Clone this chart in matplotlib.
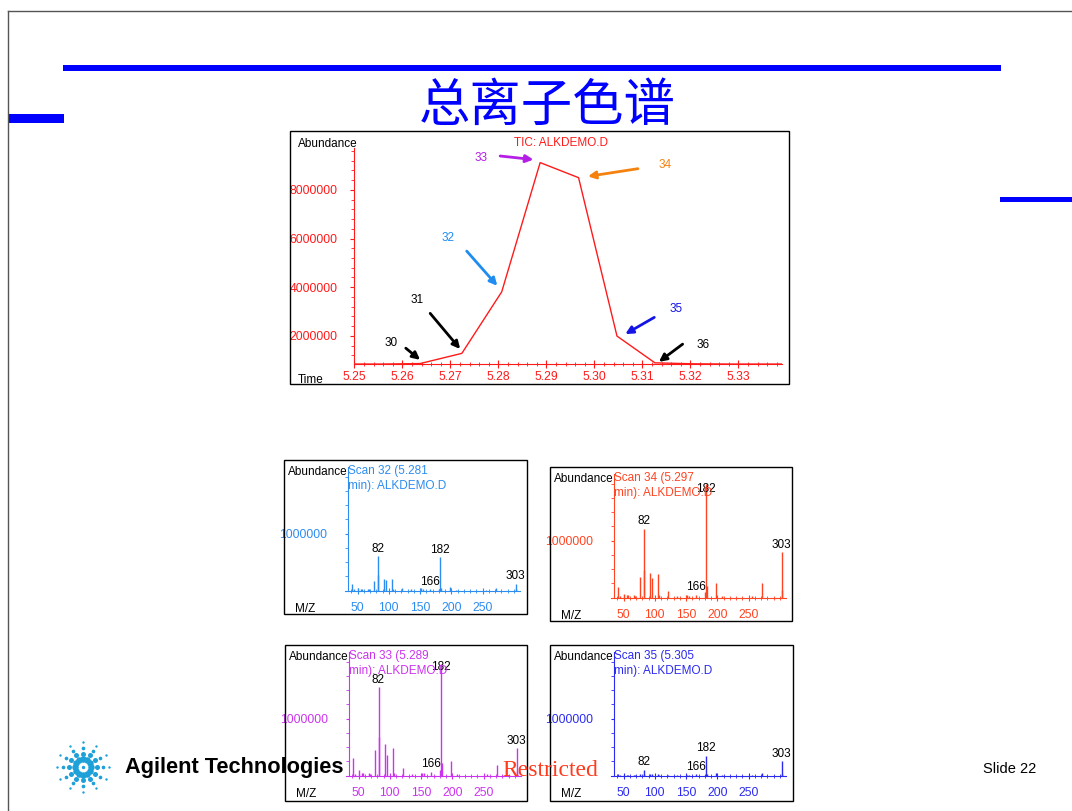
import numpy as np
import matplotlib
matplotlib.use("Agg")
import matplotlib.pyplot as plt
from matplotlib.patches import Rectangle
from matplotlib.lines import Line2D
from matplotlib.transforms import offset_copy
from matplotlib.ticker import MultipleLocator, FixedLocator

plt.rcParams['font.family'] = ['Liberation Sans', 'Noto Sans CJK SC', 'DejaVu Sans']

# ---- TIC data (scan number, retention time in min, abundance) ----
tic_scans = [28, 29, 30, 31, 32, 33, 34, 35, 36, 37, 38, 39, 40]
tic_time = [5.2477, 5.2557, 5.2637, 5.2724, 5.2807, 5.2887, 5.2967,
            5.3047, 5.3126, 5.3206, 5.3286, 5.3366, 5.3446]
tic_abund = [0.84e6, 0.84e6, 0.86e6, 1.28e6, 3.81e6, 9.12e6, 8.50e6,
             1.99e6, 0.89e6, 0.85e6, 0.84e6, 0.84e6, 0.84e6]
tic_xticks = [5.25, 5.26, 5.27, 5.28, 5.29, 5.30, 5.31, 5.32, 5.33]
tic_yticks = [2000000, 4000000, 6000000, 8000000]

# ---- mass spectra (m/z and abundance in millions) ----
mz = [41, 44, 51, 55, 57, 67, 69, 77, 82, 83, 93, 96, 105, 107, 121, 135,
      152, 155, 166, 180, 182, 184, 198, 207, 255, 272, 303, 304]
scan32 = [0.11, 0.02, 0.04, 0.03, 0.03, 0.03, 0.02, 0.17, 0.60, 0.28, 0.21, 0.19, 0.21, 0.03, 0.04, 0.02,
          0.04, 0.02, 0.02, 0.03, 0.58, 0.05, 0.065, 0.01, 0.01, 0.04, 0.12, 0.02]
scan34 = [0.18, 0.03, 0.07, 0.04, 0.04, 0.04, 0.03, 0.365, 1.21, 0.49, 0.435, 0.35, 0.42, 0.05, 0.12, 0.03,
          0.04, 0.03, 0.05, 0.10, 2.00, 0.20, 0.26, 0.02, 0.02, 0.26, 0.80, 0.13]
scan33 = [0.30, 0.03, 0.09, 0.05, 0.04, 0.05, 0.03, 0.45, 1.55, 0.67, 0.55, 0.36, 0.49, 0.05, 0.13, 0.03,
          0.05, 0.04, 0.07, 0.09, 1.96, 0.22, 0.25, 0.02, 0.02, 0.19, 0.48, 0.08]
scan35 = [0.03, 0.01, 0.01, 0.01, 0.01, 0.01, 0.01, 0.02, 0.10, 0.03, 0.02, 0.02, 0.03, 0.01, 0.01, 0.01,
          0.01, 0.01, 0.02, 0.01, 0.35, 0.02, 0.04, 0.01, 0.01, 0.05, 0.25, 0.03]
labelled_mz = [82, 166, 182, 303]
mz_ticks = [50, 100, 150, 200, 250]

W, H = 1072, 811
fig = plt.figure(figsize=(W / 100, H / 100), dpi=100)


def fx(x):
    return x / W


def fy(y):
    return 1 - y / H


def px_axes(x0, y0, x1, y1):
    return fig.add_axes([fx(x0), fy(y1), (x1 - x0) / W, (y1 - y0) / H])


def box(x0, y0, x1, y1, lw=1.0, color='black'):
    fig.patches.append(Rectangle((fx(x0), fy(y1)), (x1 - x0) / W, (y1 - y0) / H,
                                 transform=fig.transFigure, fill=False,
                                 edgecolor=color, linewidth=lw))


def bar(x0, y0, x1, y1, color='#0000ff'):
    fig.patches.append(Rectangle((fx(x0), fy(y1)), (x1 - x0) / W, (y1 - y0) / H,
                                 transform=fig.transFigure, facecolor=color,
                                 edgecolor='none'))


# ---- slide decoration ----
fig.lines.append(Line2D([fx(8), fx(W)], [fy(11), fy(11)], color='#555555', lw=1, transform=fig.transFigure))
fig.lines.append(Line2D([fx(8), fx(8)], [fy(11), fy(H)], color='#555555', lw=1, transform=fig.transFigure))
bar(63, 65, 1001, 71)
bar(8, 114, 64, 123)
bar(1000, 197, 1072, 202)
fig.text(fx(547), fy(106), '总离子色谱', fontsize=37, color='#0000ff',
         family=['Noto Sans CJK SC'], ha='center', va='center')

# ---- TIC chromatogram ----
red = '#ff1a1a'
box(290, 131, 789, 384)
ax = px_axes(354.3, 148, 781.7, 364.3)
ax.plot(tic_time, tic_abund, color=red, lw=1)
ax.set_xlim(5.25, 5.339)
ax.set_ylim(0.83e6, 9.72e6)
for s in ['top', 'right']:
    ax.spines[s].set_visible(False)
for s in ['left', 'bottom']:
    ax.spines[s].set_color(red)
ax.set_xticks(tic_xticks)
ax.set_xticklabels(['%.2f' % t for t in tic_xticks])
ax.xaxis.set_minor_locator(MultipleLocator(0.002))
ax.set_yticks(tic_yticks)
ax.set_yticklabels([str(v) for v in tic_yticks])
ax.yaxis.set_minor_locator(MultipleLocator(400000))
ax.tick_params(axis='x', which='major', direction='inout', length=6, pad=2, colors=red, labelsize=8.7)
ax.tick_params(axis='x', which='minor', direction='inout', length=3, colors=red)
ax.tick_params(axis='y', which='major', direction='out', length=3, pad=9, colors=red, labelsize=8.7)
ax.tick_params(axis='y', which='minor', direction='out', length=2.5, colors=red)
ax.patch.set_alpha(0)

fig.text(fx(298), fy(144.3), 'Abundance', fontsize=8.5, ha='left', va='center')
fig.text(fx(298), fy(380), 'Time', fontsize=8.5, ha='left', va='center')
fig.text(fx(561), fy(143), 'TIC: ALKDEMO.D', fontsize=8.5, color=red, ha='center', va='center')

# arrow layout: scan -> (tip offset, tail offset, label offset) in pixels, color
arrow_layout = [
    (30, (0, 3.7), (-14.3, 15.4), (-29, 20.7), 'black'),
    (31, (-1.7, 4.3), (-31.7, 40), (-44.7, 53.3), 'black'),
    (32, (-4.4, 6), (-35, 40.7), (-53.7, 53.7), '#1e8cf0'),
    (33, (-6.7, 3), (-40, 6.6), (-59, 4.3), '#b41ee6'),
    (34, (9.4, 1.3), (59.4, 9), (86.7, 12.3), '#f5820f'),
    (35, (8.3, 2), (37.3, 18.7), (59.3, 27), '#1414e6'),
    (36, (4, 1), (27.7, 18.7), (48, 17.7), 'black'),
]
for scan, tip, tail, lab, col in arrow_layout:
    i = tic_scans.index(scan)
    t, a = tic_time[i], tic_abund[i]
    tip_tr = offset_copy(ax.transData, x=tip[0], y=tip[1], units='dots')
    tail_tr = offset_copy(ax.transData, x=tail[0], y=tail[1], units='dots')
    ax.annotate('', xy=(t, a), xycoords=tip_tr, xytext=(t, a), textcoords=tail_tr,
                arrowprops=dict(arrowstyle='-|>', color=col, lw=2, mutation_scale=11,
                                shrinkA=0, shrinkB=0), annotation_clip=False)
    ax.text(t, a, str(scan), color=col, fontsize=8.5, ha='center', va='center',
            transform=offset_copy(ax.transData, x=lab[0], y=lab[1], units='dots'))

# ---- mass spectrum panels ----
panels = [
    (32, '5.281', scan32, (284, 460, 527, 614), '#2d8cf0'),
    (34, '5.297', scan34, (550, 467, 792, 621), '#ff4422'),
    (33, '5.289', scan33, (285, 645, 527, 801), '#cc33ee'),
    (35, '5.305', scan35, (550, 645, 793, 801), '#2b2bf0'),
]
for scan, rt, vals, (bx0, by0, bx1, by1), col in panels:
    box(bx0, by0, bx1, by1)
    sax = px_axes(bx0 + 61, by0 + 7, bx0 + 236, by0 + 130.5)
    sax.patch.set_alpha(0)
    abund = np.array(vals) * 1e6
    sax.vlines(mz, 0, abund, color=col, lw=1)
    sax.set_xlim(30, 310)
    sax.set_ylim(0, 2.17e6)
    for s in ['top', 'right']:
        sax.spines[s].set_visible(False)
    sax.spines['left'].set_position(('data', 35))
    for s in ['left', 'bottom']:
        sax.spines[s].set_color(col)
    sax.set_xticks(mz_ticks)
    sax.set_xticklabels([str(m) for m in mz_ticks])
    sax.xaxis.set_minor_locator(FixedLocator(list(range(40, 301, 10))))
    sax.set_yticks([1000000])
    sax.set_yticklabels(['1000000'])
    sax.yaxis.set_minor_locator(MultipleLocator(250000))
    sax.tick_params(axis='x', which='major', direction='inout', length=5, pad=6, colors=col, labelsize=8.7)
    sax.tick_params(axis='x', which='minor', direction='inout', length=3, colors=col)
    sax.tick_params(axis='y', which='major', direction='out', length=2, pad=13, colors=col, labelsize=8.7)
    sax.tick_params(axis='y', which='minor', direction='out', length=2, colors=col)
    for m in labelled_mz:
        # labels of off-scale peaks sit a little below the top, as in the data system
        v = min(abund[mz.index(m)], 1.78e6)
        sax.annotate(str(m), xy=(m, v), xytext=(0, 1), textcoords='offset points',
                     ha='center', va='bottom', fontsize=8.5, color='black', annotation_clip=False)
    fig.text(fx(bx0 + 64), fy(by0 + 12), 'Abundance', fontsize=8.5, ha='right', va='center')
    fig.text(fx(bx0 + 64), fy(by0 + 5), 'Scan %d (%s\nmin): ALKDEMO.D' % (scan, rt),
             fontsize=8.5, color=col, ha='left', va='top', linespacing=1.3)
    fig.text(fx(bx0 + 11), fy(by0 + 149), 'M/Z', fontsize=8.5, ha='left', va='center')

# ---- footer: logo, restricted stamp, slide number ----
lax = px_axes(50, 738, 116, 796)
lax.set_xlim(-33, 33)
lax.set_ylim(-29, 29)
lax.axis('off')
ang = np.deg2rad(np.arange(0, 360, 30))
rad = [8, 14, 20, 26]
size = [22, 13, 7, 3]
for r, s in zip(rad, size):
    lax.scatter(r * np.cos(ang), r * np.sin(ang) * 0.95, s=s, color='#1ea0d8', lw=0)
lax.scatter([0], [0], s=6, color='#1ea0d8', lw=0)

fig.text(fx(125), fy(767), 'Agilent Technologies', fontsize=15.7, fontweight='bold',
         ha='left', va='center', zorder=10)
fig.text(fx(502), fy(771), 'Restricted', fontsize=17, color='#ff3b1e',
         family=['Liberation Serif'], ha='left', va='center', zorder=10)
fig.text(fx(983), fy(769), 'Slide 22', fontsize=10.5, ha='left', va='center')

fig.savefig('out.png', dpi=100, facecolor='white')
